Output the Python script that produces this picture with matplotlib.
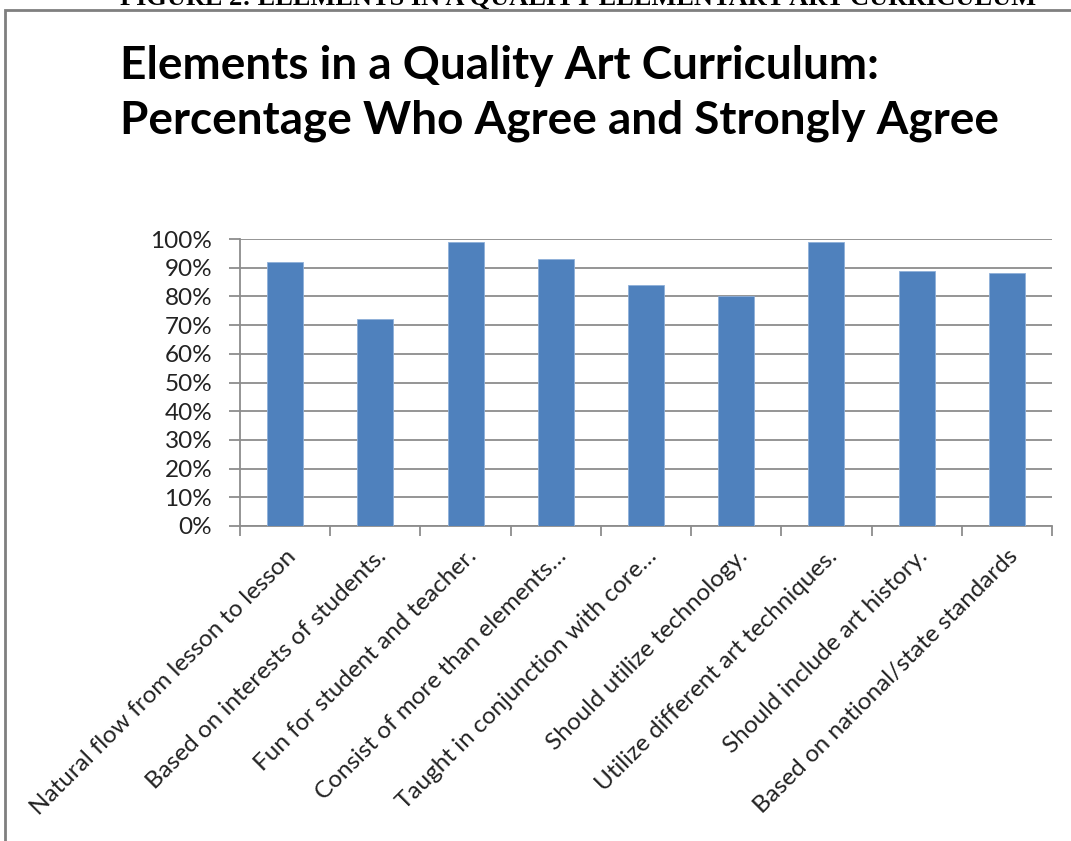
import numpy as np
import matplotlib
matplotlib.use('Agg')
import matplotlib.pyplot as plt
from matplotlib.patches import Rectangle
from matplotlib.ticker import FixedLocator

categories = ['Natural flow from lesson to lesson',
              'Based on interests of students.',
              'Fun for student and teacher.',
              'Consist of more than elements\u2026',
              'Taught in conjunction with core\u2026',
              'Should utilize technology.',
              'Utilize different art techniques.',
              'Should include art history.',
              'Based on national/state standards']
agree_pct = [92, 72, 99, 93, 84, 80, 99, 89, 88]
y_ticks = [0, 10, 20, 30, 40, 50, 60, 70, 80, 90, 100]
y_tick_labels = ['%d%%' % v for v in y_ticks]

plt.rcParams['font.family'] = ['Lato', 'DejaVu Sans']
grid_col = '#8c8c8c'

fig = plt.figure(figsize=(10.71, 8.41), dpi=100)

# caption cut at the top of the page
fig.text(0.54, 1 - 5 / 841, 'FIGURE 2: ELEMENTS IN A QUALITY ELEMENTARY ART CURRICULUM',
         ha='center', va='baseline', fontsize=19, fontweight='bold',
         family='Liberation Serif')

# chart frame
fig.patches.append(Rectangle((5 / 1071, -0.1), 1.2, 1 - 10 / 841 + 0.1,
                             transform=fig.transFigure, fill=True,
                             facecolor='white', edgecolor='#7f7f7f',
                             linewidth=2, zorder=1))

fig.text(120 / 1071, 0.922, 'Elements in a Quality Art Curriculum:', ha='left',
         va='center', fontsize=33, fontweight='bold', zorder=5)
fig.text(120 / 1071, 0.857, 'Percentage Who Agree and Strongly Agree', ha='left',
         va='center', fontsize=33, fontweight='bold', zorder=5)

ax = fig.add_axes([240 / 1071, 1 - 526 / 841, (1052 - 240) / 1071, (526 - 239) / 841])
ax.set_zorder(5)
ax.patch.set_alpha(0)
x = np.arange(len(categories))
ax.bar(x, agree_pct, width=0.4, color='#4f81bd', edgecolor='#8fb0d9',
       linewidth=0.6, zorder=3)

ax.set_xlim(-0.5, len(categories) - 0.5)
ax.set_ylim(0, 100)
ax.set_yticks(y_ticks)
ax.set_yticklabels(y_tick_labels, fontsize=17.5, color='#222222')
ax.yaxis.grid(True, color=grid_col, linewidth=1.3, zorder=0)

ax.xaxis.set_major_locator(FixedLocator(np.arange(len(categories) + 1) - 0.5))
ax.set_xticklabels([])
ax.set_xticks(x, minor=True)
ax.set_xticklabels(categories, minor=True, rotation=45, ha='right', va='top',
                   rotation_mode='anchor', fontsize=17.5, color='#222222')
ax.tick_params(axis='x', which='minor', length=0, pad=14)
ax.tick_params(axis='x', which='major', length=7, width=1.3, color=grid_col,
               direction='out')
ax.tick_params(axis='y', length=8, width=1.3, color=grid_col, pad=12)

for side in ['top', 'right']:
    ax.spines[side].set_visible(False)
for side in ['left', 'bottom']:
    ax.spines[side].set_color(grid_col)
    ax.spines[side].set_linewidth(1.3)

fig.savefig('out.png', dpi=100)
